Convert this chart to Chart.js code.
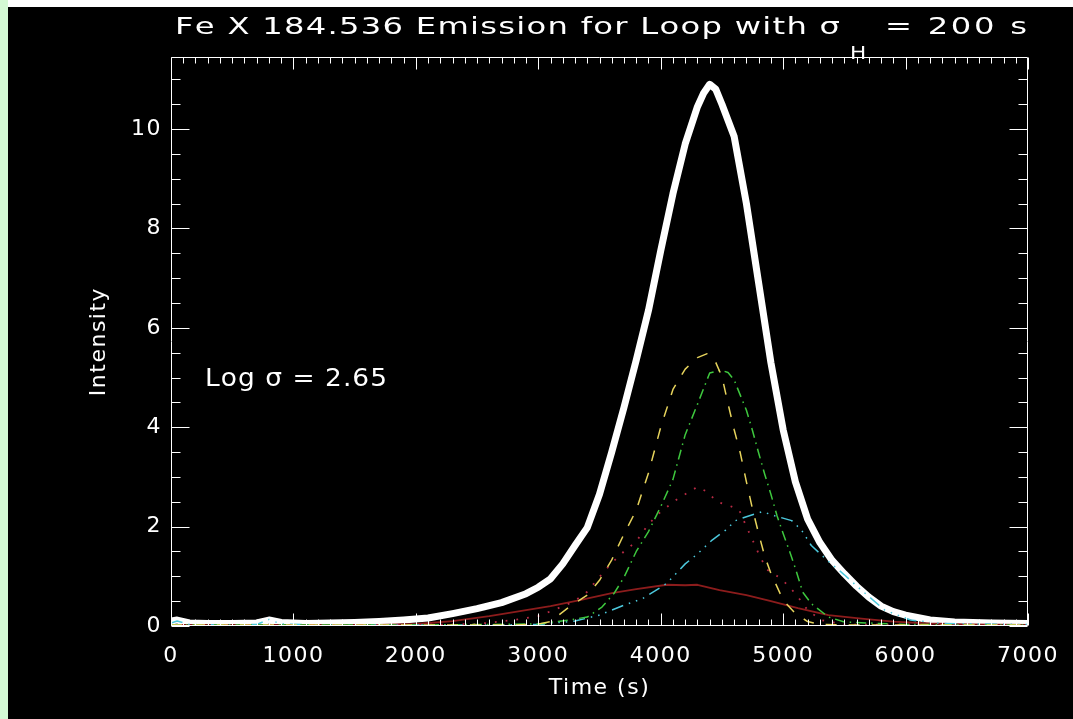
<!DOCTYPE html>
<html><head><meta charset="utf-8">
<script src="https://cdn.jsdelivr.net/npm/chart.js@4.4.1/dist/chart.umd.min.js"></script>
<style>
html,body{margin:0;padding:0;background:#000;width:1073px;height:719px;overflow:hidden;}
#c{display:block;}
</style></head><body>
<canvas id="c" width="1073" height="719"></canvas>
<script>
// ---- Data ----
const xTickValues = [0, 1000, 2000, 3000, 4000, 5000, 6000, 7000];
const yTickValues = [0, 2, 4, 6, 8, 10];

const totalT = [0, 50, 150, 300, 500, 700, 800, 900, 1100, 1300, 1500, 1700, 1900, 2100, 2300, 2500, 2700, 2900, 3000, 3100, 3200, 3300, 3400, 3500, 3600, 3700, 3800, 3900, 4000, 4100, 4200, 4300, 4350, 4400, 4450, 4500, 4600, 4700, 4800, 4900, 5000, 5100, 5200, 5300, 5400, 5500, 5600, 5700, 5800, 5900, 6000, 6200, 6400, 6700, 7000];
const totalV = [0.10, 0.12, 0.06, 0.05, 0.05, 0.06, 0.12, 0.07, 0.05, 0.06, 0.07, 0.09, 0.12, 0.16, 0.25, 0.35, 0.47, 0.65, 0.78, 0.95, 1.25, 1.62, 1.98, 2.65, 3.50, 4.40, 5.35, 6.35, 7.55, 8.70, 9.70, 10.45, 10.72, 10.90, 10.80, 10.50, 9.85, 8.50, 6.90, 5.30, 3.95, 2.90, 2.15, 1.68, 1.32, 1.05, 0.80, 0.58, 0.40, 0.29, 0.22, 0.12, 0.08, 0.06, 0.05];

const yellowT = [0, 1000, 2000, 2800, 3000, 3100, 3250, 3400, 3500, 3600, 3700, 3800, 3900, 4000, 4100, 4200, 4300, 4380, 4450, 4500, 4550, 4600, 4650, 4700, 4750, 4800, 4850, 4900, 5000, 5100, 5200, 5300, 5600, 6000, 7000];
const yellowV = [0.02, 0.02, 0.02, 0.02, 0.04, 0.09, 0.38, 0.62, 0.92, 1.33, 1.85, 2.33, 3.08, 4.00, 4.76, 5.17, 5.40, 5.48, 5.30, 5.02, 4.47, 3.95, 3.48, 2.90, 2.35, 1.86, 1.40, 1.06, 0.52, 0.25, 0.09, 0.03, 0.02, 0.02, 0.02];

const greenT = [0, 1000, 2000, 3000, 3250, 3400, 3520, 3620, 3700, 3800, 3900, 4000, 4100, 4200, 4300, 4400, 4490, 4550, 4600, 4700, 4750, 4800, 4850, 4900, 4950, 5000, 5050, 5100, 5160, 5230, 5370, 5500, 6000, 7000];
const greenV = [0.02, 0.02, 0.02, 0.04, 0.12, 0.18, 0.38, 0.66, 0.98, 1.50, 1.90, 2.40, 2.95, 3.85, 4.46, 5.09, 5.15, 5.10, 4.95, 4.34, 3.93, 3.48, 3.05, 2.65, 2.22, 1.86, 1.52, 1.16, 0.68, 0.45, 0.18, 0.08, 0.03, 0.02];

const dottedT = [0, 1000, 2000, 2500, 2800, 3000, 3125, 3290, 3400, 3480, 3600, 3700, 3800, 3900, 4000, 4150, 4300, 4380, 4460, 4540, 4640, 4700, 4750, 4810, 4870, 4960, 5040, 5120, 5200, 5310, 5500, 7000];
const dottedV = [0.02, 0.02, 0.02, 0.04, 0.12, 0.20, 0.32, 0.49, 0.69, 0.93, 1.27, 1.50, 1.70, 2.05, 2.30, 2.58, 2.80, 2.70, 2.50, 2.44, 2.34, 2.00, 1.73, 1.40, 1.13, 0.99, 0.82, 0.59, 0.32, 0.12, 0.03, 0.02];

const cyanT = [0, 50, 150, 400, 700, 800, 900, 1200, 1500, 2000, 2500, 3000, 3300, 3500, 3700, 3850, 3950, 4050, 4200, 4300, 4420, 4530, 4610, 4700, 4830, 4930, 5070, 5150, 5230, 5370, 5500, 5640, 5830, 6040, 6300, 7000];
const cyanV = [0.06, 0.10, 0.03, 0.02, 0.03, 0.13, 0.04, 0.02, 0.02, 0.02, 0.02, 0.03, 0.10, 0.22, 0.42, 0.55, 0.70, 0.86, 1.25, 1.45, 1.73, 1.93, 2.12, 2.20, 2.30, 2.22, 2.12, 1.93, 1.62, 1.30, 1.03, 0.72, 0.32, 0.12, 0.05, 0.03];

const maroonT = [0, 1000, 1700, 2000, 2300, 2600, 2900, 3100, 3340, 3600, 3800, 4050, 4200, 4300, 4480, 4700, 4900, 5120, 5370, 5640, 5900, 6200, 6500, 7000];
const maroonV = [0.02, 0.02, 0.02, 0.04, 0.10, 0.20, 0.32, 0.40, 0.52, 0.66, 0.74, 0.83, 0.82, 0.83, 0.72, 0.62, 0.50, 0.36, 0.22, 0.15, 0.09, 0.05, 0.03, 0.02];

// ---- Rendering ----
const FONT = '"DejaVu Sans", "Liberation Sans", sans-serif';
const pts = (T, V) => T.map((t, i) => ({x: t, y: V[i]}));

// Draws text from x0 so that it ends at x1: glyphs widened by `stretch`, the rest as letter gaps.
function drawFit(ctx, text, x0, y, x1, font, stretch) {
  ctx.font = font;
  const chars = Array.from(text);
  const ws = chars.map(ch => ctx.measureText(ch).width * stretch);
  const total = ws.reduce((a, b) => a + b, 0);
  const sp = chars.length > 1 ? (x1 - x0 - total) / (chars.length - 1) : 0;
  let x = x0;
  chars.forEach((ch, i) => {
    ctx.save();
    ctx.translate(x, y);
    ctx.scale(stretch, 1);
    ctx.fillText(ch, 0, 0);
    ctx.restore();
    x += ws[i] + sp;
  });
}

const decor = {
  id: 'decor',
  beforeDraw(chart) {
    const ctx = chart.ctx;
    ctx.save();
    ctx.fillStyle = '#000';
    ctx.fillRect(0, 0, chart.width, chart.height);
    ctx.fillStyle = '#ffffff';
    ctx.fillRect(8, 0, chart.width - 8, 7);
    ctx.fillStyle = '#d4f9d4';
    ctx.fillRect(0, 0, 8, chart.height);
    ctx.restore();
    ctx.letterSpacing = '1.5px';
  },
  afterDraw(chart) {
    const ctx = chart.ctx;
    const xs = chart.scales.x, ys = chart.scales.y, a = chart.chartArea;
    ctx.save();
    ctx.letterSpacing = '0px';
    ctx.strokeStyle = '#fff';
    ctx.lineWidth = 1;
    const L = Math.round(a.left) + 0.5, R = Math.round(a.right) - 0.5;
    const T = Math.round(a.top) + 0.5, B = Math.round(a.bottom) - 0.5;
    ctx.beginPath();
    ctx.rect(L, T, R - L, B - T);
    for (let v = 0; v <= 7000; v += 100) {
      const p = Math.round(xs.getPixelForValue(v)) + 0.5;
      const len = (v % 1000 === 0) ? 12 : 6;
      ctx.moveTo(p, B); ctx.lineTo(p, B - len);
      ctx.moveTo(p, T); ctx.lineTo(p, T + len);
    }
    for (let v = 0; v <= ys.max + 1e-9; v += 0.5) {
      const p = Math.round(ys.getPixelForValue(v)) + 0.5;
      const len = (Math.abs(v % 2) < 1e-9) ? 18 : 9;
      ctx.moveTo(L, p); ctx.lineTo(L + len, p);
      ctx.moveTo(R, p); ctx.lineTo(R - len, p);
    }
    ctx.stroke();

    ctx.fillStyle = '#fff';
    ctx.textBaseline = 'alphabetic';
    ctx.textAlign = 'left';
    drawFit(ctx, 'Fe X 184.536 Emission for Loop with \u03c3', 175, 34, 840, '23px ' + FONT, 1.4);
    drawFit(ctx, 'H', 850, 59, 865, '18px ' + FONT, 1.2);
    drawFit(ctx, '= 200 s', 885, 34, 1027, '23px ' + FONT, 1.4);
    drawFit(ctx, 'Log \u03c3 = 2.65', 205, 386, 387, '24px ' + FONT, 1.1);
    ctx.restore();
  }
};

const common = {pointRadius: 0, tension: 0, fill: false, borderCapStyle: 'butt', borderJoinStyle: 'round'};

new Chart(document.getElementById('c'), {
  type: 'line',
  data: {
    datasets: [
      Object.assign({label: 'Component (dash)', data: pts(yellowT, yellowV), borderColor: '#e6d35c', borderWidth: 1.5, borderDash: [11, 12]}, common),
      Object.assign({label: 'Component (dash-dot)', data: pts(greenT, greenV), borderColor: '#3ec83e', borderWidth: 1.5, borderDash: [10, 5, 1.5, 5]}, common),
      Object.assign({label: 'Component (dotted)', data: pts(dottedT, dottedV), borderColor: '#b82a44', borderWidth: 1.8, borderDash: [1.8, 9]}, common),
      Object.assign({label: 'Component (dash-dot-dot-dot)', data: pts(cyanT, cyanV), borderColor: '#4cc8dc', borderWidth: 1.5, borderDash: [12, 6, 1.5, 6, 1.5, 6, 1.5, 6]}, common),
      Object.assign({label: 'Component (solid)', data: pts(maroonT, maroonV), borderColor: '#8c1c1c', borderWidth: 1.8}, common),
      Object.assign({label: 'Total', data: pts(totalT, totalV), borderColor: '#ffffff', borderWidth: 7}, common)
    ]
  },
  options: {
    responsive: false,
    animation: false,
    devicePixelRatio: 1,
    layout: {padding: {top: 57, right: 38, left: 0, bottom: 0}},
    plugins: {legend: {display: false}, tooltip: {enabled: false}, title: {display: false}},
    scales: {
      x: {
        type: 'linear', min: 0, max: 7000,
        afterFit: s => { s.height = 93; },
        afterBuildTicks: s => { s.ticks = xTickValues.map(v => ({value: v})); },
        ticks: {color: '#fff', font: {family: FONT, size: 22}, padding: 17, maxRotation: 0, autoSkip: false, callback: v => String(v)},
        grid: {display: false, drawTicks: false},
        border: {display: false},
        title: {display: true, text: 'Time (s)', color: '#fff', font: {family: FONT, size: 22}, padding: {top: 0, bottom: 18}}
      },
      y: {
        type: 'linear', min: 0, max: 11.45,
        afterFit: s => { s.width = 171; },
        afterBuildTicks: s => { s.ticks = yTickValues.map(v => ({value: v})); },
        ticks: {color: '#fff', font: {family: FONT, size: 22}, padding: 9, autoSkip: false, callback: v => String(v)},
        grid: {display: false, drawTicks: false},
        border: {display: false},
        title: {display: true, text: 'Intensity', color: '#fff', font: {family: FONT, size: 22}, padding: {top: 86, bottom: 0}}
      }
    }
  },
  plugins: [decor]
});
</script></body></html>
